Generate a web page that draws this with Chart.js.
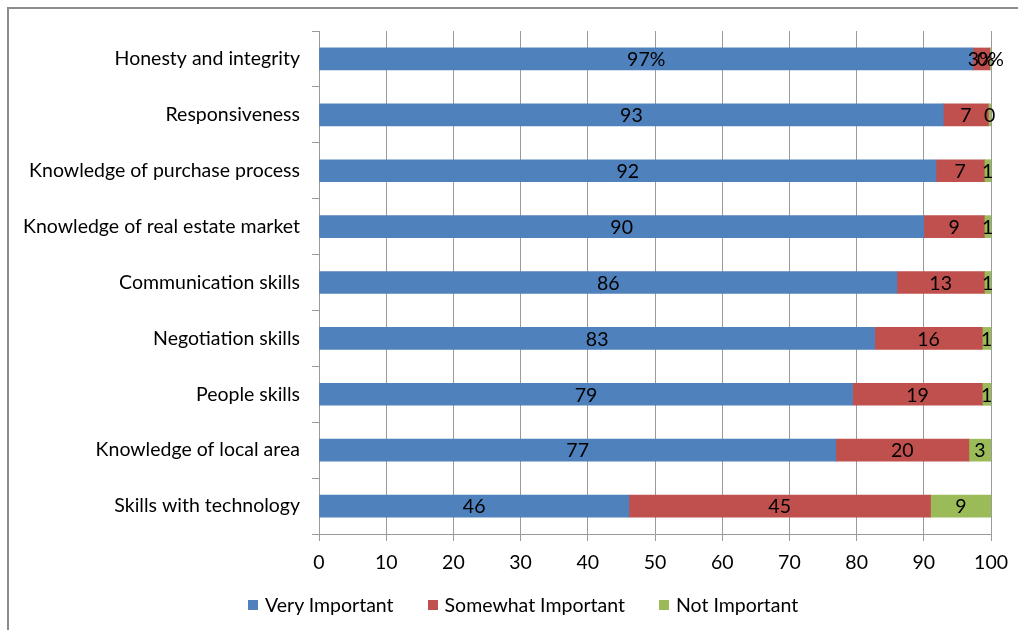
<!DOCTYPE html>
<html>
<head>
<meta charset="utf-8">
<script src="https://cdn.jsdelivr.net/npm/chart.js@4/dist/chart.umd.min.js"></script>
<style>
  html, body { margin: 0; padding: 0; background: #fff; }
  #wrap { position: relative; width: 1018px; height: 630px; overflow: hidden; font-family: Lato, sans-serif; }
  #frame { position: absolute; left: 7px; top: 7px; width: 1100px; height: 700px;
           border-left: 2px solid #8c8c8c; border-top: 2px solid #8c8c8c; }
  canvas { position: absolute; left: 0; top: 0; }
  #legend { position: absolute; left: 248px; top: 593px; display: flex; gap: 34px;
            font-size: 19.5px; line-height: 24px; color: #000; white-space: nowrap; }
  #legend span.item { display: flex; align-items: center; }
  #legend i { display: inline-block; width: 10px; height: 10px; margin-right: 7px; }
</style>
</head>
<body>
<div id="wrap">
  <div id="frame"></div>
  <canvas id="chart" width="1018" height="630"></canvas>
  <div id="legend"></div>
</div>
<script>
const categories = [
    "Honesty and integrity",
    "Responsiveness",
    "Knowledge of purchase process",
    "Knowledge of real estate market",
    "Communication skills",
    "Negotiation skills",
    "People skills",
    "Knowledge of local area",
    "Skills with technology"
];
// percentages (labels show them rounded)
const veryImportant     = [97.3, 92.9, 91.8, 90.0, 86.0, 82.7, 79.4, 76.9, 46.1];
const somewhatImportant = [2.5, 6.7, 7.2, 9.0, 13.0, 16.0, 19.3, 19.8, 44.9];
const notImportant      = [0.2, 0.4, 1.0, 1.0, 1.0, 1.3, 1.3, 3.3, 9.0];
const xTicks = [0, 10, 20, 30, 40, 50, 60, 70, 80, 90, 100];

const FONT = "Lato";
const SIZE = 19.5;
const grey = "#9a9a9a";

// value in the middle of every segment, top row carries a % sign
const segmentLabels = {
    id: "segmentLabels",
    afterDatasetsDraw(chart) {
        const ctx = chart.ctx;
        ctx.save();
        ctx.font = `${SIZE}px ${FONT}`;
        ctx.fillStyle = "#000";
        ctx.textAlign = "center";
        ctx.textBaseline = "middle";
        chart.data.datasets.forEach((ds, i) => {
            chart.getDatasetMeta(i).data.forEach((bar, j) => {
                const v = Math.round(ds.data[j]);
                const txt = j === 0 ? v + "%" : String(v);
                ctx.fillText(txt, (bar.x + bar.base) / 2, bar.y + 1);
            });
        });
        ctx.restore();
    }
};

const chart = new Chart(document.getElementById("chart"), {
    type: "bar",
    data: {
        labels: categories,
        datasets: [
            { label: "Very Important", data: veryImportant, backgroundColor: "#4F81BD" },
            { label: "Somewhat Important", data: somewhatImportant, backgroundColor: "#C0504D" },
            { label: "Not Important", data: notImportant, backgroundColor: "#9BBB59" }
        ]
    },
    options: {
        indexAxis: "y",
        responsive: false,
        animation: false,
        devicePixelRatio: 1,
        barThickness: 22,
        layout: { padding: { left: 0, top: 31, right: 25, bottom: 36 } },
        plugins: {
            tooltip: { enabled: false },
            legend: { display: false }
        },
        scales: {
            x: {
                stacked: true,
                min: 0,
                max: 100,
                afterBuildTicks: s => { s.ticks = xTicks.map(v => ({ value: v })); },
                afterFit: s => { s.height = 60; },
                grid: { color: grey, tickLength: 7 },
                border: { color: grey },
                ticks: { font: { family: FONT, size: SIZE }, color: "#000", padding: 10 }
            },
            y: {
                stacked: true,
                afterFit: s => { s.width = 319; },
                grid: { drawOnChartArea: false, color: grey, tickLength: 7, offset: true },
                border: { color: grey },
                ticks: { font: { family: FONT, size: SIZE }, color: "#000", padding: 12 }
            }
        }
    },
    plugins: [segmentLabels]
});

// legend built from the chart's own datasets
const legend = document.getElementById("legend");
for (const ds of chart.data.datasets) {
    const item = document.createElement("span");
    item.className = "item";
    const box = document.createElement("i");
    box.style.background = ds.backgroundColor;
    item.appendChild(box);
    item.appendChild(document.createTextNode(ds.label));
    legend.appendChild(item);
}
</script>
</body>
</html>
